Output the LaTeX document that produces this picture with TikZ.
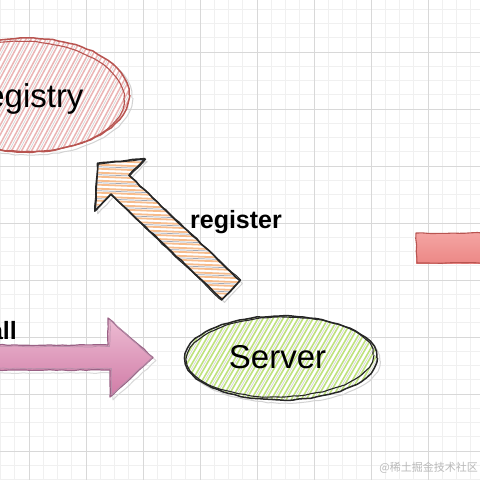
\documentclass[tikz,border=0pt]{standalone}
\usepackage{fontspec}
\setmainfont{Liberation Sans}
\newfontfamily\cjk{Noto Sans CJK SC}
\usetikzlibrary{shapes.geometric,decorations.pathmorphing}
\definecolor{minorc}{HTML}{F0F0F0}
\definecolor{majorc}{HTML}{D8D8D8}
\definecolor{redstroke}{HTML}{B85450}
\definecolor{redhatch}{HTML}{EBB5B5}
\definecolor{greenhatch}{HTML}{BFE27E}
\definecolor{darkstroke}{HTML}{262626}
\definecolor{orangehatch}{HTML}{F7BC8C}
\definecolor{bluehatch}{HTML}{9FAABB}
\definecolor{pinkstroke}{HTML}{996185}
\definecolor{pinktop}{HTML}{EDBCD3}
\definecolor{pinkbot}{HTML}{D07BA6}
\definecolor{recttop}{HTML}{F4A4A2}
\definecolor{rectbot}{HTML}{EC8886}
\begin{document}
\begin{tikzpicture}[x=1pt,y=-1pt,
  minorgrid/.style={draw=minorc,line width=0.8pt},
  majorgrid/.style={draw=majorc,line width=0.9pt},
  sketch/.style={decorate,decoration={random steps,segment length=6pt,amplitude=0.5pt},line join=round},
  shadowline/.style={draw=gray!35,line width=1pt,sketch},
  bigtext/.style={font=\fontsize{33}{38}\selectfont,inner sep=0pt,anchor=base},
  boldtext/.style={font=\bfseries\fontsize{25}{30}\selectfont,inner sep=0pt,anchor=base}]
\pgfmathsetseed{11}
\useasboundingbox (0,0) rectangle (480,480);
\fill[white] (0,0) rectangle (480,480);
\begin{scope}
\clip (0,0) rectangle (480,480);
% grid
\foreach \k in {-2,...,32} \draw[minorgrid] ({29+14.25*\k},0) -- ({29+14.25*\k},480);
\foreach \k in {-1,...,34} \draw[minorgrid] (0,{-5+14.25*\k}) -- (480,{-5+14.25*\k});
\foreach \k in {-1,...,8} \draw[majorgrid] ({29+57*\k},0) -- ({29+57*\k},480);
\foreach \k in {0,...,9} \draw[majorgrid] (0,{-5+57*\k}) -- (480,{-5+57*\k});

% Registry ellipse
\draw[shadowline] (29,98) ellipse [x radius=103pt, y radius=57pt];
\node[ellipse, minimum width=206pt, minimum height=114pt, inner sep=0pt, fill=white,
  path picture={
    \foreach \t in {-330,-325,...,330} {\draw[redhatch,line width=1.5pt] ([xshift=\t pt]path picture bounding box.south) -- ++(62:330pt);}
    \foreach \t in {-327.5,-317.5,...,330} {\draw[gray!35,line width=0.6pt] ([xshift=\t pt]path picture bounding box.south) -- ++(62:330pt);}
  }] (reg) at (26,95) {};
\draw[redstroke,line width=1.5pt,sketch] (reg.center) ellipse [x radius=103pt, y radius=57pt];
\draw[redstroke,line width=1.1pt,sketch,rotate around={-2:(reg.center)}] ([xshift=-2pt,yshift=-1.5pt]reg.center) ellipse [x radius=100pt, y radius=55pt];
\node[bigtext] (regl) at (23,107) {Registry};

% register arrow
\coordinate (ra1) at (239.9,280.6);
\coordinate (ra2) at (128.95,175.27);
\coordinate (ra3) at (144.8,158.6);
\coordinate (ra4) at (97.5,163.3);
\coordinate (ra5) at (95.2,210.8);
\coordinate (ra6) at (111.05,194.13);
\coordinate (ra7) at (222.05,299.43);
\draw[shadowline] ([shift={(2.5,3)}]ra1) -- ([shift={(2.5,3)}]ra2) -- ([shift={(2.5,3)}]ra3) -- ([shift={(2.5,3)}]ra4) -- ([shift={(2.5,3)}]ra5) -- ([shift={(2.5,3)}]ra6) -- ([shift={(2.5,3)}]ra7) -- cycle;
\begin{scope}
\clip (ra1) -- (ra2) -- (ra3) -- (ra4) -- (ra5) -- (ra6) -- (ra7) -- cycle;
\fill[white] (80,140) rectangle (260,320);
\foreach \yy in {140,144,...,320} \draw[orangehatch,line width=1.8pt] (80,\yy) -- (260,{\yy+7});
\foreach \yy in {142,150,...,320} \draw[bluehatch,line width=0.7pt] (80,\yy) -- (260,{\yy+7});
\end{scope}
\draw[darkstroke,line width=1.6pt,sketch] (ra1) -- (ra2) -- (ra3) -- (ra4) -- (ra5) -- (ra6) -- (ra7) -- cycle;
\draw[darkstroke,line width=0.9pt,sketch] (240.7,280) -- (129.6,176.1) -- (145.8,159.1) -- (98.3,164.3) -- (94.6,211.4) -- (110.3,194.5) -- (221.6,300.3) -- cycle;
\node[boldtext] (regtxt) at (236,228) {register};

% call arrow
\coordinate (ca1) at (-40,345);
\coordinate (ca2) at (108,345);
\coordinate (ca3) at (108,318);
\coordinate (ca4) at (153,357.5);
\coordinate (ca5) at (110,397);
\coordinate (ca6) at (110,370);
\coordinate (ca7) at (-40,370);
\draw[shadowline,draw=gray!30] (-37,348) -- (111,348) -- (111,321) -- (156,360.5) -- (113,400) -- (113,373) -- (-37,373);
\shade[top color=pinktop,bottom color=pinkbot] (ca1) -- (ca2) -- (ca3) -- (ca4) -- (ca5) -- (ca6) -- (ca7) -- cycle;
\draw[pinkstroke,line width=1.2pt,sketch] (ca1) -- (ca2) -- (ca3) -- (ca4) -- (ca5) -- (ca6) -- (ca7);
\draw[pinkstroke!70,line width=0.7pt,sketch] (-40,346.5) -- (109.5,346.5) -- (110,320) -- (152,357.5) -- (111.5,395) -- (111.5,368.5) -- (-40,368.5);
\node[boldtext] (calltxt) at (-4,339) {call};

% Server ellipse
\draw[shadowline] (284,361) ellipse [x radius=96pt, y radius=42pt];
\node[ellipse, minimum width=192pt, minimum height=84pt, inner sep=0pt, fill=white,
  path picture={
    \foreach \t in {-260,-255,...,260} {\draw[greenhatch,line width=1.6pt] ([xshift=\t pt]path picture bounding box.south) -- ++(60:260pt);}
    \foreach \t in {-257.5,-247.5,...,260} {\draw[gray!35,line width=0.6pt] ([xshift=\t pt]path picture bounding box.south) -- ++(60:260pt);}
  }] (srv) at (281,358) {};
\draw[darkstroke,line width=1.5pt,sketch] (srv.center) ellipse [x radius=96pt, y radius=42pt];
\draw[darkstroke,line width=1.1pt,sketch,rotate around={1.5:(srv.center)}] ([xshift=-1pt,yshift=1pt]srv.center) ellipse [x radius=93pt, y radius=40pt];
\node[bigtext] (srvl) at (277.5,368) {Server};

% red rectangle
\shade[top color=recttop,bottom color=rectbot] (416,233) rectangle (495,263);
\draw[redstroke,line width=1.1pt,sketch] (495,233) -- (416,233) -- (417,263) -- (495,263);

% watermark
\node[text=gray!55,font=\cjk\fontsize{11}{13}\selectfont,anchor=east,inner sep=0pt] (wm) at (478,468) {@稀土掘金技术社区};
\end{scope}
\end{tikzpicture}
\end{document}
